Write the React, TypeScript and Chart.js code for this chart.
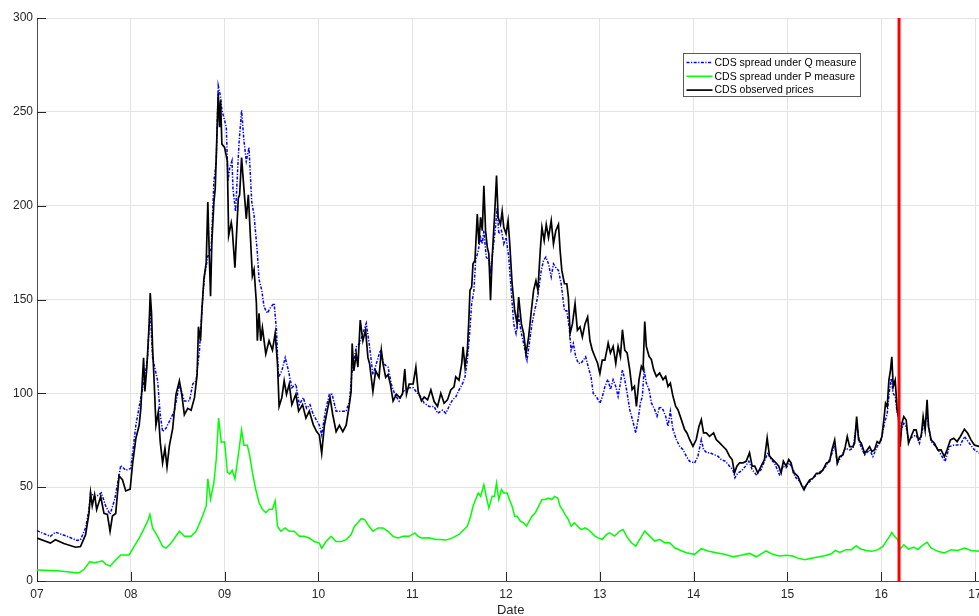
import React, { useEffect, useRef } from "react";
import { Chart, registerables } from "chart.js";

Chart.register(...registerables);

// ---- axis definitions ----
const yearTicks = [7, 8, 9, 10, 11, 12, 13, 14, 15, 16, 17];
const yearLabels = ["07", "08", "09", "10", "11", "12", "13", "14", "15", "16", "17"];
const valueTicks = [0, 50, 100, 150, 200, 250, 300];
const seriesLabels = [
  "CDS spread under Q measure",
  "CDS spread under P measure",
  "CDS observed prices",
];
const regimeBreak = 16.19; // vertical red line (date)

// ---- series: [date (year), value] ----
const qMeasure: [number, number][] = [
  [7.0, 26.8], [7.143, 23.8], [7.196, 26], [7.321, 23.8], [7.429, 21.6], [7.464, 22], [7.518, 28.3],
  [7.554, 38], [7.571, 47], [7.614, 44.5], [7.643, 45.4], [7.686, 47], [7.732, 40], [7.779, 35.5],
  [7.829, 43.6], [7.893, 61.6], [7.946, 59], [8.0, 60], [8.054, 83], [8.107, 97.7], [8.143, 106.7],
  [8.179, 119], [8.196, 137], [8.207, 144.5], [8.232, 119], [8.286, 106.7], [8.314, 88.6], [8.339, 79.6],
  [8.375, 81.4], [8.411, 85], [8.464, 90.5], [8.518, 104.9], [8.571, 95.9], [8.625, 96], [8.661, 105],
  [8.696, 106.7], [8.732, 123], [8.768, 151.7], [8.786, 162.5], [8.821, 173], [8.857, 177], [8.886, 213],
  [8.911, 223.8], [8.932, 264], [8.957, 258], [8.971, 251], [9.0, 245.4], [9.018, 241.8], [9.036, 213],
  [9.054, 220], [9.079, 224],
  [9.089, 209], [9.117, 196.8], [9.153, 232.8], [9.181, 250.8], [9.206, 234.6], [9.231, 223.8], [9.26, 231],
  [9.289, 202], [9.314, 195], [9.349, 175], [9.367, 160.7], [9.396, 155], [9.421, 146], [9.456, 142.7],
  [9.492, 146], [9.528, 148], [9.553, 133.7], [9.574, 108.5], [9.61, 112], [9.646, 119], [9.681, 112],
  [9.717, 103], [9.76, 105], [9.796, 94], [9.839, 97.7], [9.874, 92], [9.91, 94], [9.946, 88.6],
  [10.01, 83], [10.035, 77.8], [10.074, 90.5], [10.117, 99.5], [10.146, 99.5], [10.189, 90.5], [10.242, 90.5],
  [10.296, 90.5], [10.331, 95.9], [10.36, 112], [10.403, 124.7], [10.439, 126.5], [10.474, 132], [10.51, 137.3],
  [10.546, 124.7], [10.581, 110], [10.617, 115.7], [10.66, 123], [10.696, 115.7], [10.742, 114], [10.778, 104.9],
  [10.814, 99.5], [10.86, 95.9], [10.903, 101], [10.956, 103], [11.01, 103], [11.064, 99.5], [11.099, 97.7],
  [11.128, 94.7], [11.181, 93], [11.234, 93], [11.27, 89.4], [11.323, 91], [11.358, 89.4], [11.393, 93],
  [11.429, 96.5], [11.464, 98], [11.499, 101.8], [11.535, 105], [11.563, 108.8], [11.588, 117.7], [11.612, 131.9],
  [11.634, 147.8], [11.658, 154.9], [11.676, 170.8], [11.704, 176], [11.729, 183], [11.747, 179.6], [11.764, 186.7],
  [11.789, 172.6], [11.817, 170.8], [11.835, 165.5], [11.86, 176], [11.888, 188.5], [11.906, 199], [11.923, 185],
  [11.952, 186.7], [11.976, 179.6], [12.001, 183], [12.029, 172.6], [12.058, 153], [12.082, 137], [12.107, 131.9],
  [12.135, 140.7], [12.164, 131.9], [12.188, 126.5], [12.224, 117.7], [12.248, 126.5], [12.277, 137], [12.305, 144],
  [12.33, 149.6], [12.347, 154.9], [12.376, 165.5], [12.4, 170.8], [12.425, 172.6], [12.453, 169], [12.482, 162],
  [12.506, 169], [12.531, 167], [12.559, 165.5], [12.588, 158.4], [12.623, 144], [12.648, 144], [12.673, 135.4],
  [12.694, 123], [12.718, 126.5], [12.743, 119.5], [12.771, 116], [12.8, 116], [12.824, 117.7], [12.849, 119.5],
  [12.877, 114], [12.906, 108.8], [12.93, 100], [12.966, 98], [13.001, 94.7], [13.026, 98], [13.054, 103.5],
  [13.082, 107],
  [13.089, 107.3], [13.113, 102], [13.142, 107.3], [13.17, 103.7], [13.195, 98.4], [13.22, 105.5], [13.241, 112.6],
  [13.266, 107.3], [13.291, 100.2], [13.319, 91.3], [13.348, 86], [13.383, 78.9], [13.408, 86], [13.433, 94.9],
  [13.454, 98.4], [13.472, 112.6], [13.496, 105.5], [13.525, 102], [13.55, 94.9], [13.585, 91.3], [13.61, 87.8],
  [13.638, 93], [13.674, 91.3], [13.702, 87.8], [13.727, 82.4], [13.752, 90.4], [13.78, 80.7], [13.816, 75.4],
  [13.851, 71.8], [13.887, 70], [13.922, 66.5], [13.957, 63.8], [14.011, 62.9], [14.046, 66.5], [14.082, 75.4],
  [14.106, 70], [14.142, 68.3], [14.177, 68.3], [14.213, 67.4], [14.259, 66.5], [14.294, 64.7], [14.34, 63.8],
  [14.383, 61.2], [14.418, 59.4], [14.44, 55], [14.472, 57.6], [14.507, 58.5], [14.553, 61.2], [14.589, 63.8],
  [14.624, 59.4], [14.667, 56.7], [14.72, 59.4], [14.755, 63.8], [14.791, 68.3], [14.826, 64.7], [14.862, 62.9],
  [14.915, 56.7], [14.95, 61.2], [14.986, 60.3], [15.021, 62.9], [15.064, 59.4],
  [15.078, 55.7], [15.131, 53], [15.177, 49.5], [15.22, 52.1], [15.273, 54.8], [15.326, 57.4], [15.379, 59.2],
  [15.433, 62.8], [15.475, 68], [15.504, 72.5], [15.532, 62.8], [15.574, 66.3], [15.617, 70.7], [15.663, 69.9],
  [15.699, 70.7], [15.738, 84], [15.77, 73.4], [15.823, 67.2], [15.876, 69.9], [15.911, 66.3], [15.957, 71.6],
  [16.0, 75.2], [16.035, 84], [16.064, 89.4], [16.089, 101.8], [16.106, 108], [16.128, 100], [16.149, 98.2],
  [16.17, 89.4], [16.184, 87.6], [16.213, 80.5], [16.241, 84], [16.266, 82.3], [16.291, 75.2], [16.337, 77],
  [16.372, 77.8], [16.408, 73.4], [16.447, 82.3], [16.489, 87.6], [16.532, 74.3], [16.585, 71.6], [16.638, 67.2],
  [16.681, 63.7], [16.727, 71.6], [16.78, 72.5], [16.844, 72.5], [16.887, 77], [16.94, 73.4], [16.993, 69.9],
  [17.05, 68],
];

const pMeasure: [number, number][] = [
  [7.0, 5.8], [7.214, 5.4], [7.446, 4.3], [7.5, 6.1], [7.564, 10.3], [7.607, 9.7], [7.661, 10.3], [7.696, 10.8],
  [7.732, 9], [7.779, 7.9], [7.821, 10.3], [7.893, 13.9], [7.982, 13.9], [8.036, 18.4], [8.089, 22.9],
  [8.136, 27.4], [8.179, 31.9], [8.204, 35.5], [8.232, 28.3], [8.286, 23.8], [8.339, 18.4], [8.375, 17.5],
  [8.429, 20.2], [8.518, 26.5], [8.571, 23.8], [8.643, 23.8], [8.696, 26.5], [8.75, 32.8], [8.804, 40],
  [8.821, 54.4], [8.85, 43.6], [8.886, 52.6], [8.911, 65], [8.936, 86.8], [8.964, 74], [9.0, 74.2],
  [9.029, 58], [9.054, 57],
  [9.081, 59], [9.11, 54.4], [9.146, 67], [9.181, 80.5], [9.206, 72.4], [9.242, 72.4], [9.267, 67], [9.296, 58],
  [9.331, 49], [9.367, 41.8], [9.403, 38.2], [9.439, 36.4], [9.474, 38.2], [9.51, 38.2], [9.539, 42.7],
  [9.564, 29.2], [9.599, 26.5], [9.646, 28.3], [9.689, 26.5], [9.742, 26.5], [9.796, 23.8], [9.849, 23.8],
  [9.903, 22.9], [9.956, 21], [10.01, 20.2], [10.035, 17.5], [10.081, 21], [10.135, 23.8], [10.189, 21],
  [10.242, 21], [10.296, 22], [10.349, 24.7], [10.385, 29.2], [10.421, 31], [10.456, 33.2], [10.492, 32.8],
  [10.528, 30], [10.581, 26.5], [10.635, 28.3], [10.689, 28.3], [10.742, 26.5], [10.796, 23.8], [10.849, 22.9],
  [10.903, 23.8], [10.967, 23.8], [11.028, 25.6], [11.064, 23.8], [11.099, 22.9],
  [11.181, 23], [11.252, 22.1], [11.305, 22.1], [11.358, 21.8], [11.429, 23], [11.499, 24.8], [11.552, 27.4],
  [11.588, 29.2], [11.623, 34.5], [11.648, 39.8], [11.676, 43.4], [11.704, 46.9], [11.729, 45.1], [11.764, 51.3],
  [11.789, 45.1], [11.817, 38.9], [11.853, 45.1], [11.877, 45.1], [11.899, 52.2], [11.923, 43.4], [11.952, 48.7],
  [11.976, 46.9], [12.012, 46.9], [12.036, 43.4], [12.065, 39.8], [12.093, 34.5], [12.118, 34.5], [12.153, 31.9],
  [12.188, 31], [12.217, 29.2], [12.248, 31.9], [12.277, 34.5], [12.312, 36.3], [12.347, 39.8], [12.383, 43.4],
  [12.418, 43.4], [12.453, 44.2], [12.489, 43.4], [12.517, 45.1], [12.552, 44.2], [12.577, 39.8], [12.602, 38],
  [12.63, 35.4], [12.665, 32.7], [12.694, 29.2], [12.729, 31], [12.764, 29.2], [12.8, 27.4], [12.842, 28.3],
  [12.877, 27.4], [12.913, 25.7], [12.948, 23.9], [12.983, 23], [13.026, 22.1], [13.072, 24.8],
  [13.106, 25.7], [13.16, 23.9], [13.213, 26.6], [13.248, 27.5], [13.284, 23.9], [13.337, 20.4], [13.383, 18.6],
  [13.426, 22.2], [13.479, 26.6], [13.532, 23.9], [13.585, 21.3], [13.638, 22.2], [13.691, 20.4], [13.745, 20.4],
  [13.798, 17.7], [13.851, 16.5], [13.922, 15.1], [14.011, 14.2], [14.082, 17.2], [14.152, 16], [14.241, 15.1],
  [14.33, 14.2], [14.418, 12.9], [14.507, 13.7], [14.596, 14.7], [14.667, 12.9], [14.773, 16], [14.844, 14.2],
  [14.915, 13.3], [14.986, 13.7], [15.057, 13.3],
  [15.113, 12.2], [15.184, 11.3], [15.255, 12.1], [15.326, 12.8], [15.397, 13.5], [15.468, 14.5], [15.511, 16.3],
  [15.557, 15.2], [15.628, 16.7], [15.681, 16.7], [15.734, 18.8], [15.78, 17], [15.84, 16.3], [15.901, 15.8],
  [15.965, 16.7], [16.018, 18.4], [16.053, 21.1], [16.089, 23.8], [16.113, 25.9], [16.142, 23.8], [16.177, 22],
  [16.202, 17], [16.241, 19.3], [16.291, 17], [16.348, 18.1], [16.39, 16.7], [16.433, 18.8], [16.489, 20.6],
  [16.532, 17.6], [16.603, 15.8], [16.674, 14.9], [16.745, 16.7], [16.816, 16.3], [16.887, 17.6], [16.957, 16.3],
  [17.05, 15.8],
];

const observed: [number, number][] = [
  [7.0, 22.9], [7.143, 20.2], [7.196, 22], [7.286, 20], [7.411, 18], [7.464, 18.4], [7.518, 24.7], [7.554, 36],
  [7.571, 47], [7.589, 40], [7.614, 46], [7.636, 38], [7.679, 45], [7.714, 36], [7.75, 35.5], [7.779, 26.5],
  [7.804, 34.6], [7.839, 36], [7.875, 56], [7.911, 54], [7.946, 48], [7.993, 49], [8.018, 62], [8.054, 76],
  [8.089, 83], [8.107, 92], [8.136, 119], [8.15, 101], [8.171, 114], [8.196, 137], [8.207, 153.5], [8.221, 142.7],
  [8.232, 124.7], [8.25, 105], [8.268, 83], [8.293, 90], [8.314, 74], [8.339, 63], [8.364, 70.6], [8.386, 60.7],
  [8.411, 72], [8.446, 81], [8.482, 99.5], [8.518, 106.7], [8.543, 99.5], [8.571, 88.6], [8.607, 92], [8.643, 91],
  [8.679, 97.7], [8.707, 110], [8.721, 135.5], [8.743, 128], [8.757, 143.6], [8.779, 160.7], [8.804, 169.7],
  [8.821, 202], [8.839, 170], [8.85, 151.7], [8.864, 180.5], [8.886, 202], [8.9, 209], [8.914, 231], [8.932, 260],
  [8.946, 241.8], [8.957, 256], [8.971, 232.8], [9.0, 231], [9.029, 223.8], [9.043, 184], [9.071, 191],
  [9.081, 187.7], [9.11, 167], [9.146, 204], [9.16, 205.8], [9.181, 225.6], [9.206, 209], [9.231, 193],
  [9.253, 205.8], [9.278, 180.5], [9.296, 162.5], [9.314, 166], [9.339, 148], [9.349, 128], [9.367, 142.7],
  [9.385, 128], [9.403, 135], [9.439, 121], [9.474, 128], [9.51, 123], [9.539, 132], [9.564, 115.7], [9.581, 93],
  [9.61, 97.7], [9.635, 106.7], [9.66, 99.5], [9.689, 104.9], [9.717, 94], [9.76, 99.5], [9.789, 90.5], [9.831, 94],
  [9.867, 86.8], [9.903, 90.5], [9.946, 83.2], [9.981, 79.6], [10.01, 77.8], [10.035, 68], [10.064, 83],
  [10.099, 92], [10.124, 97.7], [10.153, 88.6], [10.189, 79.6], [10.224, 83], [10.26, 79.6], [10.296, 83],
  [10.324, 92], [10.349, 101], [10.36, 126.5], [10.378, 112], [10.403, 121], [10.421, 114], [10.446, 139],
  [10.474, 128], [10.503, 133.7], [10.528, 119], [10.546, 115.7], [10.581, 101], [10.61, 112], [10.646, 108.5],
  [10.671, 123], [10.689, 115.7], [10.717, 108.5], [10.742, 110], [10.767, 104.9], [10.796, 95.9], [10.831, 99.5],
  [10.867, 97.7], [10.896, 99.5], [10.921, 113], [10.939, 99.5], [10.967, 104.9], [11.01, 105], [11.039, 114],
  [11.064, 101], [11.099, 96],
  [11.128, 98], [11.164, 96.5], [11.199, 101.8], [11.234, 95.6], [11.27, 93], [11.305, 100], [11.34, 94.7],
  [11.376, 96.5], [11.411, 101.8], [11.446, 103.5], [11.464, 108.8], [11.499, 107], [11.528, 116], [11.542, 124.8],
  [11.563, 114], [11.588, 123], [11.605, 140.7], [11.616, 154.9], [11.634, 156.6], [11.648, 169], [11.669, 170.8],
  [11.694, 195.6], [11.711, 179.6], [11.729, 193.8], [11.747, 186.7], [11.764, 210.6], [11.782, 186.7],
  [11.8, 177.9], [11.817, 174.3], [11.835, 149.6], [11.853, 172.6], [11.877, 193.8], [11.899, 216], [11.916, 193.8],
  [11.941, 190], [11.959, 197], [11.976, 188.5], [12.001, 185], [12.022, 192], [12.04, 179.6], [12.065, 158.4],
  [12.093, 144], [12.118, 137], [12.135, 151.3], [12.164, 137], [12.188, 131.9], [12.213, 121], [12.241, 130],
  [12.27, 144], [12.294, 154.9], [12.319, 160], [12.34, 154.9], [12.365, 176], [12.383, 188.5], [12.407, 181.4],
  [12.429, 190], [12.453, 183], [12.482, 192], [12.506, 179.6], [12.531, 186.7], [12.559, 190], [12.577, 176],
  [12.595, 165.5], [12.623, 158.4], [12.648, 158.4], [12.665, 151.3], [12.683, 131.9], [12.708, 137],
  [12.736, 147.8], [12.761, 133.6], [12.789, 135.4], [12.814, 130], [12.842, 137], [12.87, 140.7], [12.895, 128],
  [12.92, 123], [12.948, 119.5], [12.976, 116], [13.001, 110.6], [13.026, 117.7], [13.054, 117.7], [13.082, 124.8],
  [13.089, 126.8], [13.113, 121.5], [13.142, 125], [13.17, 116], [13.195, 125], [13.22, 119.7], [13.241, 133.9],
  [13.266, 123], [13.291, 121.5], [13.319, 112.6], [13.344, 102], [13.369, 103.7], [13.39, 93], [13.418, 107.3],
  [13.443, 114.4], [13.461, 112.6], [13.479, 138.3], [13.496, 125], [13.525, 119.7], [13.55, 118], [13.574, 112.6],
  [13.603, 109], [13.638, 110.8], [13.674, 107.3], [13.702, 109], [13.727, 103.7], [13.752, 105.5], [13.78, 98.4],
  [13.809, 93], [13.833, 91.3], [13.869, 86], [13.904, 80.7], [13.929, 78.9], [13.957, 75.4], [13.993, 71.8],
  [14.028, 75.4], [14.057, 82.4], [14.082, 86], [14.106, 78.9], [14.135, 78.9], [14.17, 77.1], [14.213, 78.9],
  [14.241, 75.4], [14.277, 73.6], [14.312, 71.8], [14.348, 70], [14.383, 66.5], [14.411, 64.7], [14.436, 57.6],
  [14.461, 61.2], [14.489, 62.9], [14.525, 62.9], [14.56, 63.8], [14.596, 68.3], [14.624, 61.2], [14.652, 61.2],
  [14.684, 57.6], [14.72, 61.2], [14.755, 64.7], [14.784, 76.2], [14.809, 66.5], [14.844, 64.7], [14.879, 62.9],
  [14.908, 61.2], [14.933, 57.6], [14.957, 63.8], [14.986, 61.2], [15.014, 64.7], [15.039, 62.9], [15.064, 57.6],
  [15.078, 57.4], [15.113, 55.7], [15.149, 51.2], [15.177, 48.6], [15.202, 51.2], [15.238, 53.9], [15.273, 54.8],
  [15.309, 57.4], [15.344, 57.4], [15.379, 59.2], [15.415, 62.8], [15.45, 63.7], [15.475, 69.9], [15.504, 75.2],
  [15.532, 62.8], [15.557, 66.3], [15.592, 67.2], [15.617, 71.6], [15.638, 77], [15.663, 71.6], [15.699, 71.6],
  [15.716, 73.4], [15.738, 87.6], [15.759, 75.2], [15.787, 73.4], [15.823, 68], [15.851, 69.9], [15.876, 71.6],
  [15.901, 69], [15.929, 69.9], [15.957, 74.3], [15.982, 73.4], [16.007, 77], [16.028, 85.8], [16.046, 94.7],
  [16.064, 92.9], [16.082, 107], [16.099, 112.4], [16.113, 119.5], [16.128, 103.5], [16.149, 107], [16.17, 91.1],
  [16.184, 87.6], [16.202, 71.6], [16.22, 84], [16.241, 87.6], [16.266, 85.8], [16.291, 73.4], [16.319, 77],
  [16.348, 80.5], [16.372, 80.5], [16.397, 75.2], [16.426, 77], [16.447, 87.6], [16.468, 80.5], [16.489, 96.5],
  [16.504, 82.3], [16.532, 75.2], [16.567, 73.4], [16.603, 69.9], [16.638, 69.9], [16.674, 66.3], [16.702, 69.9],
  [16.738, 75.2], [16.773, 76.1], [16.809, 74.3], [16.844, 77], [16.887, 80.9], [16.922, 78.7], [16.957, 75.2],
  [16.993, 72.5], [17.05, 71.6],
];

const FONT = "'Liberation Sans', Arial, Helvetica, sans-serif";
const AXIS_COLOR = "#262626";

const toPoints = (s: [number, number][]) => s.map(([x, y]) => ({ x, y }));

const matlabDecor = {
  id: "matlabDecor",
  afterDatasetsDraw(chart: any) {
    const { ctx, chartArea, scales } = chart;
    ctx.save();
    // inward tick marks
    ctx.strokeStyle = AXIS_COLOR;
    ctx.lineWidth = 1;
    ctx.beginPath();
    for (const v of yearTicks) {
      const px = Math.round(scales.x.getPixelForValue(v)) + 0.5;
      ctx.moveTo(px, chartArea.bottom);
      ctx.lineTo(px, chartArea.bottom - 9);
    }
    for (const v of valueTicks) {
      const py = Math.round(scales.y.getPixelForValue(v)) + 0.5;
      ctx.moveTo(chartArea.left, py);
      ctx.lineTo(chartArea.left + 9, py);
    }
    ctx.stroke();

    // legend box
    const bx = Math.round(chartArea.left + 646) + 0.5;
    const by = Math.round(chartArea.top + 35) + 0.5;
    const bw = 177;
    const bh = 43;
    ctx.fillStyle = "#ffffff";
    ctx.fillRect(bx, by, bw, bh);
    ctx.strokeStyle = "#5a5a5a";
    ctx.lineWidth = 1;
    ctx.strokeRect(bx, by, bw, bh);
    ctx.font = `10.5px ${FONT}`;
    ctx.textBaseline = "middle";
    ctx.textAlign = "left";
    for (let i = 0; i < 3; i++) {
      const ds = chart.data.datasets[i];
      const ly = by + 9 + i * 13.8;
      ctx.beginPath();
      ctx.strokeStyle = ds.borderColor;
      ctx.lineWidth = ds.borderWidth;
      ctx.setLineDash(ds.borderDash || []);
      ctx.moveTo(bx + 3, ly);
      ctx.lineTo(bx + 29, ly);
      ctx.stroke();
      ctx.setLineDash([]);
      ctx.fillStyle = "#000000";
      ctx.fillText(seriesLabels[i], bx + 31, ly + 0.5);
    }
    ctx.restore();
  },
};

export default function App() {
  const ref = useRef<HTMLCanvasElement | null>(null);

  useEffect(() => {
    if (!ref.current) return;
    const chart = new Chart(ref.current, {
      type: "line",
      data: {
        datasets: [
          {
            label: seriesLabels[0],
            data: toPoints(qMeasure),
            borderColor: "#0000ff",
            borderWidth: 1.5,
            borderDash: [3, 1.5, 1.2, 1.5],
            pointRadius: 0,
            tension: 0,
            order: 4,
          },
          {
            label: seriesLabels[1],
            data: toPoints(pMeasure),
            borderColor: "#00ff00",
            borderWidth: 1.5,
            pointRadius: 0,
            tension: 0,
            order: 3,
          },
          {
            label: seriesLabels[2],
            data: toPoints(observed),
            borderColor: "#000000",
            borderWidth: 1.7,
            pointRadius: 0,
            tension: 0,
            order: 2,
          },
          {
            label: "break",
            data: [
              { x: regimeBreak, y: valueTicks[0] },
              { x: regimeBreak, y: valueTicks[valueTicks.length - 1] },
            ],
            borderColor: "#ff0000",
            borderWidth: 3,
            pointRadius: 0,
            order: 1,
          },
        ] as any,
      },
      options: {
        animation: false,
        responsive: false,
        devicePixelRatio: 1,
        layout: { padding: { top: 18, right: 15.6, left: 0, bottom: 0 } },
        plugins: { legend: { display: false }, tooltip: { enabled: false } },
        scales: {
          x: {
            type: "linear",
            min: 7,
            max: 17.1,
            afterBuildTicks: (axis: any) => {
              axis.ticks = yearTicks.map((v) => ({ value: v }));
            },
            afterFit: (scale: any) => {
              scale.height = 37;
            },
            ticks: {
              callback: (v: any) => yearLabels[yearTicks.indexOf(Number(v))] ?? "",
              color: AXIS_COLOR,
              font: { family: FONT, size: 12 },
              padding: 6,
              maxRotation: 0,
              autoSkip: false,
            },
            grid: { color: "#e3e3e3", drawTicks: false, lineWidth: 1 },
            border: { display: true, color: "#4a4a4a", width: 1 },
            title: {
              display: true,
              text: "Date",
              color: AXIS_COLOR,
              font: { family: FONT, size: 13 },
              padding: { top: 0, bottom: 0 },
            },
          },
          y: {
            type: "linear",
            min: 0,
            max: 300,
            afterBuildTicks: (axis: any) => {
              axis.ticks = valueTicks.map((v) => ({ value: v }));
            },
            afterFit: (scale: any) => {
              scale.width = 37;
            },
            ticks: {
              color: AXIS_COLOR,
              font: { family: FONT, size: 12 },
              padding: 4,
            },
            grid: { color: "#e3e3e3", drawTicks: false, lineWidth: 1 },
            border: { display: true, color: "#4a4a4a", width: 1 },
          },
        },
      } as any,
      plugins: [matlabDecor],
    });
    return () => chart.destroy();
  }, []);

  return (
    <div style={{ position: "fixed", left: 0, top: 0, width: 1000, height: 618, background: "#ffffff" }}>
      <canvas ref={ref} width={1000} height={618} style={{ width: 1000, height: 618, display: "block" }} />
    </div>
  );
}
